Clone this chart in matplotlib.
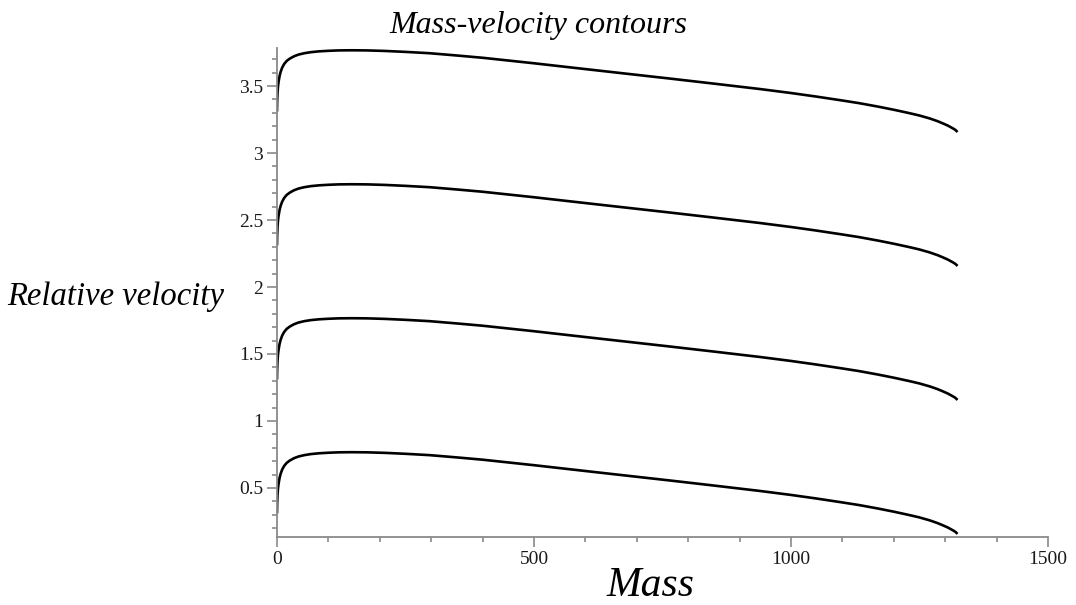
import matplotlib
matplotlib.use("Agg")
import matplotlib.pyplot as plt
from matplotlib.ticker import MultipleLocator

# Mass samples shared by every contour
mass = [0, 0.3, 1, 2, 3, 5, 7, 10, 14, 19, 25, 33, 42, 53, 66, 82, 100, 120,
        145, 175, 210, 250, 297, 350, 400, 439, 500, 569, 650, 764, 850, 939,
        1000, 1050, 1100, 1133, 1170, 1200, 1230, 1250, 1270, 1285, 1295,
        1305, 1315, 1320, 1324]

# Relative velocity along each contour
velocity_1 = [0.31, 0.38, 0.45, 0.50, 0.53, 0.575, 0.605, 0.637, 0.665, 0.688,
              0.705, 0.722, 0.735, 0.745, 0.753, 0.759, 0.763, 0.766, 0.767,
              0.766, 0.762, 0.755, 0.745, 0.728, 0.711, 0.695, 0.670, 0.640,
              0.605, 0.556, 0.518, 0.478, 0.448, 0.421, 0.392, 0.372, 0.346,
              0.323, 0.298, 0.280, 0.258, 0.238, 0.222, 0.205, 0.184, 0.172,
              0.157]
velocity_2 = [1.31, 1.38, 1.45, 1.50, 1.53, 1.575, 1.605, 1.637, 1.665, 1.688,
              1.705, 1.722, 1.735, 1.745, 1.753, 1.759, 1.763, 1.766, 1.767,
              1.766, 1.762, 1.755, 1.745, 1.728, 1.711, 1.695, 1.670, 1.640,
              1.605, 1.556, 1.518, 1.478, 1.448, 1.421, 1.392, 1.372, 1.346,
              1.323, 1.298, 1.280, 1.258, 1.238, 1.222, 1.205, 1.184, 1.172,
              1.157]
velocity_3 = [2.31, 2.38, 2.45, 2.50, 2.53, 2.575, 2.605, 2.637, 2.665, 2.688,
              2.705, 2.722, 2.735, 2.745, 2.753, 2.759, 2.763, 2.766, 2.767,
              2.766, 2.762, 2.755, 2.745, 2.728, 2.711, 2.695, 2.670, 2.640,
              2.605, 2.556, 2.518, 2.478, 2.448, 2.421, 2.392, 2.372, 2.346,
              2.323, 2.298, 2.280, 2.258, 2.238, 2.222, 2.205, 2.184, 2.172,
              2.157]
velocity_4 = [3.31, 3.38, 3.45, 3.50, 3.53, 3.575, 3.605, 3.637, 3.665, 3.688,
              3.705, 3.722, 3.735, 3.745, 3.753, 3.759, 3.763, 3.766, 3.767,
              3.766, 3.762, 3.755, 3.745, 3.728, 3.711, 3.695, 3.670, 3.640,
              3.605, 3.556, 3.518, 3.478, 3.448, 3.421, 3.392, 3.372, 3.346,
              3.323, 3.298, 3.280, 3.258, 3.238, 3.222, 3.205, 3.184, 3.172,
              3.157]

x_ticks = [0, 500, 1000, 1500]
y_ticks = [0.5, 1, 1.5, 2, 2.5, 3, 3.5]
y_tick_labels = ["0.5", "1", "1.5", "2", "2.5", "3", "3.5"]

serif = "Liberation Serif"

fig = plt.figure(figsize=(10.76, 6.05), dpi=100)
ax = fig.add_axes([277 / 1076, 68 / 605, 771 / 1076, 489 / 605])

for v in (velocity_1, velocity_2, velocity_3, velocity_4):
    ax.plot(mass, v, color="black", lw=1.9, solid_capstyle="butt",
            solid_joinstyle="round")

ax.set_xlim(0, 1500)
ax.set_ylim(0.134, 3.784)

for side in ("top", "right"):
    ax.spines[side].set_visible(False)
for side in ("left", "bottom"):
    ax.spines[side].set_color("#8a8a8a")
    ax.spines[side].set_linewidth(1.3)

ax.set_xticks(x_ticks)
ax.set_xticklabels([str(t) for t in x_ticks])
ax.set_yticks(y_ticks)
ax.set_yticklabels(y_tick_labels)
ax.xaxis.set_minor_locator(MultipleLocator(100))
ax.yaxis.set_minor_locator(MultipleLocator(0.1))

ax.tick_params(which="major", length=7, width=1.2, color="#8a8a8a",
               labelsize=14, pad=3, labelcolor="#1a1a1a")
ax.tick_params(which="minor", length=3.5, width=1.2, color="#8a8a8a")
for lbl in ax.get_xticklabels() + ax.get_yticklabels():
    lbl.set_fontfamily(serif)

fig.text(538 / 1076, 1 - 26 / 605, "Mass-velocity contours", family=serif,
         style="italic", fontsize=23, ha="center", va="center")
fig.text(116 / 1076, 1 - 297 / 605, "Relative velocity", family=serif,
         style="italic", fontsize=23.5, ha="center", va="center")
fig.text(650 / 1076, 1 - 586 / 605, "Mass", family=serif,
         style="italic", fontsize=30, ha="center", va="center")

fig.savefig("out.png", dpi=100)
